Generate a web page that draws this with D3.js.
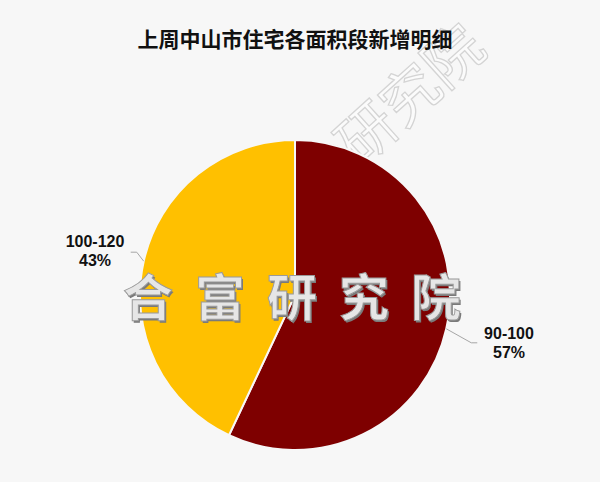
<!DOCTYPE html>
<html><head><meta charset="utf-8">
<script src="https://cdn.jsdelivr.net/npm/d3@7"></script>
<style>body{margin:0;background:#f7f7f7;} svg{display:block;}</style>
</head><body>
<svg id="c" width="600" height="482"></svg>
<script>
const title = "上周中山市住宅各面积段新增明细";
const categories = ["90-100", "100-120"];
const values = [57, 43];
const colors = ["#7e0000", "#ffc000"];
const watermark = "合富研究院";

const svg = d3.select("#c");
const W = 600, H = 482;
svg.append("rect").attr("width", W).attr("height", H).attr("fill", "#f7f7f7");

// faint diagonal watermark top-right
svg.append("text").attr("transform", "translate(424,110) rotate(-42)")
  .attr("text-anchor", "middle").attr("font-family", "Noto Sans CJK SC")
  .attr("font-size", 58).attr("fill", "#fbfbfb").attr("stroke", "#d4d4d4")
  .attr("stroke-width", 1.3).text("研究院");

svg.append("text").attr("x", 295).attr("y", 47).attr("text-anchor", "middle")
  .attr("font-family", "Noto Sans CJK SC").attr("font-weight", "bold")
  .attr("font-size", 21).attr("fill", "#111").text(title);

const cx = 295, cy = 295, r = 155;
const pie = d3.pie().sort(null).value(d => d);
const arcs = pie(values);
const arc = d3.arc().innerRadius(0).outerRadius(r);
const g = svg.append("g").attr("transform", `translate(${cx},${cy})`);
g.selectAll("path").data(arcs).enter().append("path")
  .attr("d", arc).attr("fill", (d, i) => colors[i])
  .attr("stroke", "#f7f7f7").attr("stroke-width", 2);

// leader lines + labels
const lab = [
  {dx: 25, dy: 14, hx: 6, tx: 509, ty: 339},
  {dx: -7, dy: -9, hx: -6, tx: 95, ty: 247}
];
arcs.forEach((d, i) => {
  const a = (d.startAngle + d.endAngle) / 2;
  const x0 = Math.sin(a) * r, y0 = -Math.cos(a) * r;
  const L = lab[i];
  const x1 = x0 + L.dx, y1 = y0 + L.dy;
  g.append("polyline")
    .attr("points", `${x0},${y0} ${x1},${y1} ${x1 + L.hx},${y1}`)
    .attr("fill", "none").attr("stroke", "#a6a6a6").attr("stroke-width", 1);
  const t = svg.append("text").attr("text-anchor", "middle")
    .attr("font-family", "Liberation Sans, Arial").attr("font-weight", "bold")
    .attr("font-size", 16).attr("fill", "#111");
  t.append("tspan").attr("x", L.tx).attr("y", L.ty).text(categories[i]);
  t.append("tspan").attr("x", L.tx).attr("y", L.ty + 19)
    .text(Math.round(d.value / d3.sum(values) * 100) + "%");
});

// central watermark
const wm = svg.append("g");
watermark.split("").forEach((ch, i) => {
  const x = 148 + i * 72;
  wm.append("text").attr("x", x + 1.5).attr("y", 317.5)
    .attr("text-anchor", "middle").attr("font-family", "Noto Sans CJK SC")
    .attr("font-weight", "bold").attr("font-size", 50).attr("fill", "#7a7a7a")
    .text(ch);
  wm.append("text").attr("x", x).attr("y", 316)
    .attr("text-anchor", "middle").attr("font-family", "Noto Sans CJK SC")
    .attr("font-weight", "bold").attr("font-size", 50).attr("fill", "#e6e6e6")
    .attr("stroke", "#9a9a9a").attr("stroke-width", 1).text(ch);
});
</script>
</body></html>
